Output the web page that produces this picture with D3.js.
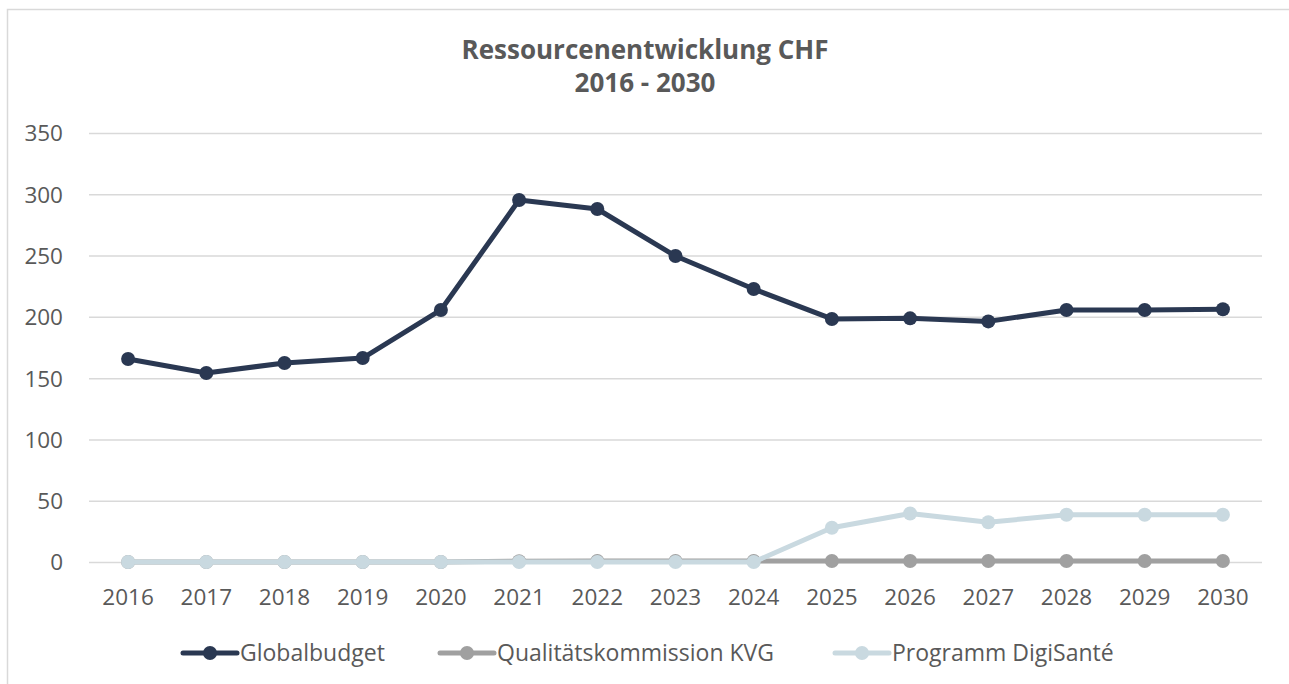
<!DOCTYPE html>
<html lang="de">
<head>
    <meta charset="UTF-8">
    <title>Ressourcenentwicklung CHF</title>
    <style>
        body {
            margin: 0;
            background: #fff;
            font-family: "Open Sans", "Noto Sans", sans-serif;
        }

        #chart {
            width: 1289px;
            height: 684px;
        }

        #chart text {
            font-family: "Open Sans", "Noto Sans", sans-serif;
        }

        #chart .title {
            font-size: 26px;
            font-weight: bold;
            fill: #595959;
            text-anchor: middle;
        }

        #chart .tick text {
            font-size: 22.5px;
            fill: #595959;
        }

        #chart .legend text {
            font-size: 23px;
            fill: #595959;
        }
    </style>
</head>
<body>

<div id="chart"></div>

<script src="https://cdn.jsdelivr.net/npm/d3@7/dist/d3.min.js"></script>

<script>
    // Daten
    var years = ["2016", "2017", "2018", "2019", "2020", "2021", "2022", "2023",
        "2024", "2025", "2026", "2027", "2028", "2029", "2030"];
    var globalbudget = [165.6, 154.2, 162.4, 166.4, 205.6, 295.3, 288, 249.6,
        222.7, 198.3, 198.8, 196.3, 205.6, 205.6, 206.2];
    var qualitaet = [0, 0, 0, 0, 0, 0.6, 0.8, 0.8, 0.8, 0.8, 0.8, 0.8, 0.8, 0.8, 0.8];
    var digisante = [0, 0, 0, 0, 0, 0, 0, 0, 0, 28, 39.6, 32.4, 38.6, 38.6, 38.6];
    var seriesNames = ["Globalbudget", "Qualitätskommission KVG", "Programm DigiSanté"];
    var seriesColors = ["#2a3852", "#a0a0a0", "#c9d9e0"];
    var yTicks = [0, 50, 100, 150, 200, 250, 300, 350];

    var width = 1289, height = 684;
    var margin = {left: 89, right: 27, top: 133, bottom: 122};

    var svg = d3.select("#chart").append("svg")
        .attr("width", width)
        .attr("height", height);

    // Rahmen
    svg.append("rect")
        .attr("x", 7.5).attr("y", 9.5)
        .attr("width", width + 10).attr("height", height + 10)
        .attr("fill", "none")
        .attr("stroke", "#d9d9d9")
        .attr("stroke-width", 1.5);

    // Titel
    svg.append("text").attr("class", "title")
        .attr("x", 645).attr("y", 59)
        .text("Ressourcenentwicklung CHF");
    svg.append("text").attr("class", "title")
        .attr("x", 645).attr("y", 92)
        .text("2016 - 2030");

    var x = d3.scaleBand()
        .domain(years)
        .range([margin.left, width - margin.right]);

    var y = d3.scaleLinear()
        .domain([0, 350])
        .range([height - margin.bottom, margin.top]);

    // Gitterlinien + y-Achse
    var yAxis = svg.append("g")
        .attr("transform", "translate(" + margin.left + ",0)")
        .call(d3.axisLeft(y).tickValues(yTicks)
            .tickSize(-(width - margin.left - margin.right))
            .tickPadding(26));
    yAxis.select(".domain").remove();
    yAxis.selectAll(".tick line")
        .attr("stroke", "#d9d9d9")
        .attr("stroke-width", 1.5);
    yAxis.selectAll(".tick text").attr("dy", "0.35em");

    // x-Achse
    var xAxis = svg.append("g")
        .attr("transform", "translate(0," + y(0) + ")")
        .call(d3.axisBottom(x).tickSize(0).tickPadding(35));
    xAxis.select(".domain").remove();
    xAxis.selectAll(".tick text").attr("dy", "0.35em");

    var line = d3.line()
        .x(function (d, i) { return x(years[i]) + x.bandwidth() / 2; })
        .y(function (d) { return y(d); });

    var allSeries = [globalbudget, qualitaet, digisante];

    allSeries.forEach(function (data, k) {
        var g = svg.append("g");
        g.append("path")
            .datum(data)
            .attr("fill", "none")
            .attr("stroke", seriesColors[k])
            .attr("stroke-width", 5)
            .attr("stroke-linejoin", "round")
            .attr("d", line);
        g.selectAll("circle")
            .data(data)
            .enter().append("circle")
            .attr("cx", function (d, i) { return x(years[i]) + x.bandwidth() / 2; })
            .attr("cy", function (d) { return y(d); })
            .attr("r", 7)
            .attr("fill", seriesColors[k]);
    });

    // Legende
    var legendX = [183, 440, 835];
    var legend = svg.append("g").attr("class", "legend");
    seriesNames.forEach(function (name, k) {
        var lg = legend.append("g")
            .attr("transform", "translate(" + legendX[k] + ",653)");
        lg.append("line")
            .attr("x1", 0).attr("x2", 54)
            .attr("stroke", seriesColors[k])
            .attr("stroke-width", 5)
            .attr("stroke-linecap", "round");
        lg.append("circle")
            .attr("cx", 27).attr("r", 7)
            .attr("fill", seriesColors[k]);
        lg.append("text")
            .attr("x", 57).attr("dy", "0.35em")
            .text(name);
    });
</script>
</body>
</html>
